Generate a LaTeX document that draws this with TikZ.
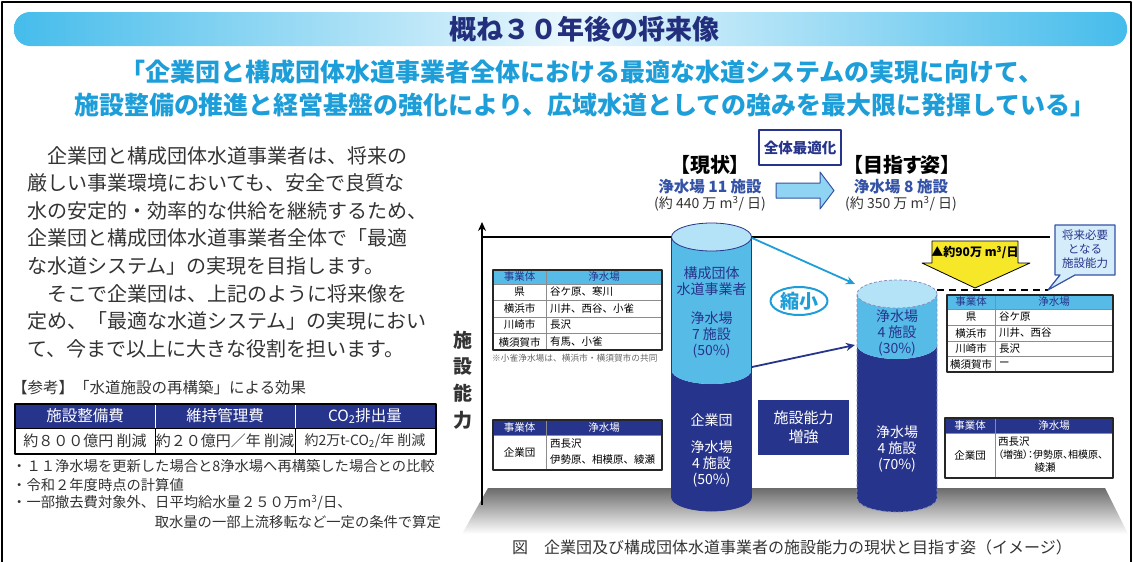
\documentclass[tikz,border=0pt]{standalone}
\usepackage{fontspec}
\setmainfont{Noto Sans CJK JP}
\newfontfamily\jpp[RawFeature=+palt]{Noto Sans CJK JP}
\usetikzlibrary{positioning,arrows.meta,shapes.geometric}
\definecolor{navy}{HTML}{27348B}
\definecolor{watermid}{HTML}{56BBE7}
\definecolor{waterlite}{HTML}{B4E3F7}
\definecolor{sky}{HTML}{1D9ED9}
\definecolor{bannerend}{HTML}{45BCEB}
\definecolor{bannermid}{HTML}{EAF7FD}
\definecolor{inkgray}{HTML}{333333}
\definecolor{callyellow}{HTML}{F6E829}
\definecolor{callblue}{HTML}{D5ECFA}
\definecolor{lineblue}{HTML}{3553A6}
\definecolor{arrowfill}{HTML}{8FD4F3}
\newcommand\fs[2]{\fontsize{#1}{#2}\selectfont}
\begin{document}
\begin{tikzpicture}[x=1pt,y=1pt,>={Stealth[length=9pt,width=8pt]},line join=round,
	cyltext/.style={align=center,font=\fs{14}{16}},
	cell/.style={inner sep=0pt,font=\fs{10.5}{12}},
	tabframe/.style={line width=1.1pt,draw=black!85},
	tabrule/.style={line width=0.4pt,draw=black!45}]
	\useasboundingbox (0,0) rectangle (1133,-562);
	\draw[line width=1.5pt] (2,-562) -- (2,-2) -- (1131,-2) -- (1131,-562);
	% banner and aim
	\shade[left color=bannerend,right color=bannerend,middle color=bannermid,rounded corners=16pt] (14,-12) rectangle (1127,-46);
	\node[font=\fs{27}{30}\bfseries,text=navy!90!black] (title) at (584,-29) {概ね３０年後の将来像};
	\node[font=\fs{25}{28}\bfseries,text=sky] (aim1) at (582,-72) {「企業団と構成団体水道事業者全体における最適な水道システムの実現に向けて、};
	\node[font=\fs{25}{28}\bfseries,text=sky] (aim2) at (585,-105) {施設整備の推進と経営基盤の強化により、広域水道としての強みを最大限に発揮している」};
	% left text
	\node[anchor=north west,inner sep=0pt,align=left,font=\fs{20}{27.6},text=inkgray] (intro) at (27,-146) {　企業団と構成団体水道事業者は、将来の\\厳しい事業環境においても、安全で良質な\\水の安定的・効率的な供給を継続するため、\\企業団と構成団体水道事業者全体で「最適\\な水道システム」の実現を目指します。\\　そこで企業団は、上記のように将来像を\\定め、「最適な水道システム」の実現におい\\て、今まで以上に大きな役割を担います。};
	\node[anchor=west,inner sep=0pt,font=\fs{15.5}{18},text=inkgray] (ref) at (12,-388) {【参考】「水道施設の再構築」による効果};
	\fill[navy] (15,-404) rectangle (436,-428);
	\draw[white,thin] (155,-404) -- (155,-428) (295,-404) -- (295,-428);
	\draw[thin] (15,-428) -- (436,-428) (155,-428) -- (155,-454) (295,-428) -- (295,-454);
	\draw[line width=1.2pt] (15,-404) rectangle (436,-454);
	\node[font=\fs{15.5}{18},text=white] (costbuild) at (85,-416) {施設整備費};
	\node[font=\fs{15.5}{18},text=white] (costrun) at (225,-416) {維持管理費};
	\node[font=\fs{15.5}{18},text=white] (costco) at (365,-416) {CO\textsubscript{2}排出量};
	\node[font=\fs{15}{18},text=inkgray] (savebuild) at (85,-441) {約８００億円 削減};
	\node[font=\fs{15}{18},text=inkgray] (saverun) at (225,-441) {約２０億円／年 削減};
	\node[font=\fs{14}{18},text=inkgray] (saveco) at (365,-441) {約2万t-CO\textsubscript{2}/年 削減};
	\node[anchor=west,inner sep=0pt,font=\fs{14.3}{16},text=inkgray] (note1) at (12,-466) {・１１浄水場を更新した場合と8浄水場へ再構築した場合との比較};
	\node[anchor=west,inner sep=0pt,font=\fs{14.3}{16},text=inkgray] (note2) at (12,-485) {・令和２年度時点の計算値};
	\node[anchor=west,inner sep=0pt,font=\fs{14.3}{16},text=inkgray] (note3) at (12,-503) {・一部撤去費対象外、日平均給水量２５０万m\textsuperscript{3}/日、};
	\node[anchor=east,inner sep=0pt,font=\fs{14.3}{16},text=inkgray] (note4) at (441,-522) {取水量の一部上流移転など一定の条件で算定};
	% ground, axis, level line
	\shade[top color=black!58,bottom color=white] (488,-488) -- (1105,-488) -- (1128,-534) -- (462,-534) -- cycle;
	\draw[->,line width=1.3pt] (482,-505) -- (482,-222);
	\node[align=center,font=\fs{19}{26.7}\bfseries,text=inkgray] (axislbl) at (463,-380) {施\\設\\能\\力};
	\draw[line width=1.5pt] (482,-237) -- (1050,-237);
	% top centre
	\node[draw=navy,line width=1.5pt,fill=white,minimum width=82pt,minimum height=35pt,font=\fs{14.5}{16}\bfseries,text=navy] (opt) at (800,-147.5) {全体最適化};
	\node[font=\fs{20}{22}\bfseries\jpp] (now) at (710,-165) {【現状】};
	\node[font=\fs{15.5}{18}\bfseries,text=lineblue] (nowcnt) at (710,-187) {浄水場 11 施設};
	\node[font=\fs{14}{16},text=inkgray] (nowvol) at (710,-204) {\jpp(約 440 万 m\textsuperscript{3}/ 日)};
	\node[font=\fs{20}{22}\bfseries\jpp] (goal) at (902,-165) {【目指す姿】};
	\node[font=\fs{15.5}{18}\bfseries,text=lineblue] (goalcnt) at (901,-187) {浄水場 8 施設};
	\node[font=\fs{14}{16},text=inkgray] (goalvol) at (901,-204) {\jpp(約 350 万 m\textsuperscript{3}/ 日)};
	\draw[draw=lineblue,fill=arrowfill,line width=1pt] (776,-183) -- (820,-183) -- (820,-172) -- (834,-190.5) -- (820,-209) -- (820,-198) -- (776,-198) -- cycle;
	% tables, current
	\fill[watermid] (493,-270) rectangle (662,-284);
	\draw[tabrule] (493,-284) -- (662,-284) (493,-300.5) -- (662,-300.5) (493,-317) -- (662,-317) (493,-333.5) -- (662,-333.5) (546,-270) -- (546,-350);
	\draw[tabframe] (493,-270) rectangle (662,-350);
	\node[cell,text=navy] (nowhd1) at (519.5,-277) {事業体};
	\node[cell,text=navy] (nowhd2) at (604,-277) {浄水場};
	\node[cell] (nowa1) at (519.5,-292) {県};
	\node[cell,anchor=west] (nowa2) at (550,-292) {谷ケ原、寒川};
	\node[cell] (nowb1) at (519.5,-308.5) {横浜市};
	\node[cell,anchor=west] (nowb2) at (550,-308.5) {川井、西谷、小雀};
	\node[cell] (nowc1) at (519.5,-325) {川崎市};
	\node[cell,anchor=west] (nowc2) at (550,-325) {長沢};
	\node[cell] (nowd1) at (519.5,-342) {横須賀市};
	\node[cell,anchor=west] (nowd2) at (550,-342) {有馬、小雀};
	\node[anchor=west,inner sep=0pt,font=\fs{8.7}{10},text=black!60] (nownote) at (492,-358) {※小雀浄水場は、横浜市・横須賀市の共同};
	\fill[navy] (493,-420) rectangle (662,-435);
	\draw[tabrule] (493,-435) -- (662,-435) (546,-420) -- (546,-470);
	\draw[tabframe] (493,-420) rectangle (662,-470);
	\node[cell,text=white] (corphd1) at (519.5,-427.5) {事業体};
	\node[cell,text=white] (corphd2) at (604,-427.5) {浄水場};
	\node[cell] (corpa1) at (519.5,-452.5) {企業団};
	\node[cell,anchor=west] (corpa2) at (550,-444) {西長沢};
	\node[cell,anchor=west] (corpa3) at (550,-460) {伊勢原、相模原、綾瀬};
	% tables, future
	\fill[watermid] (947,-295) rectangle (1113,-309);
	\draw[tabrule] (947,-309) -- (1113,-309) (947,-325) -- (1113,-325) (947,-341) -- (1113,-341) (947,-356.5) -- (1113,-356.5) (995,-295) -- (995,-372);
	\draw[tabframe] (947,-295) rectangle (1113,-372);
	\node[cell,text=navy] (futhd1) at (971,-302) {事業体};
	\node[cell,text=navy] (futhd2) at (1054,-302) {浄水場};
	\node[cell] (futa1) at (971,-317) {県};
	\node[cell,anchor=west] (futa2) at (999,-317) {谷ケ原};
	\node[cell] (futb1) at (971,-333) {横浜市};
	\node[cell,anchor=west] (futb2) at (999,-333) {川井、西谷};
	\node[cell] (futc1) at (971,-348.7) {川崎市};
	\node[cell,anchor=west] (futc2) at (999,-348.7) {長沢};
	\node[cell] (futd1) at (971,-364.2) {横須賀市};
	\node[cell,anchor=west] (futd2) at (999,-364.2) {ー};
	\fill[navy] (945,-418) rectangle (1113,-433);
	\draw[tabrule] (945,-433) -- (1113,-433) (995,-418) -- (995,-478);
	\draw[tabframe] (945,-418) rectangle (1113,-478);
	\node[cell,text=white] (fcorphd1) at (970,-425.5) {事業体};
	\node[cell,text=white] (fcorphd2) at (1054,-425.5) {浄水場};
	\node[cell] (fcorpa1) at (970,-455) {企業団};
	\node[cell,anchor=west] (fcorpa2) at (998,-442) {西長沢};
	\node[cell,anchor=west,font=\fs{10}{12}\jpp] (fcorpa3) at (998,-455) {（増強）：伊勢原、相模原、};
	\node[cell] (fcorpa4) at (1045,-468) {綾瀬};
	% cylinders
	\def\cylrx{40}
	\def\cylry{14}
	\fill[navy] (671.5,-370) arc[start angle=180,end angle=360,x radius=\cylrx,y radius=\cylry] -- (751.5,-497) arc[start angle=0,end angle=-180,x radius=\cylrx,y radius=\cylry] -- cycle;
	\fill[watermid] (671.5,-237) -- (671.5,-370) arc[start angle=180,end angle=360,x radius=\cylrx,y radius=\cylry] -- (751.5,-237) -- cycle;
	\fill[waterlite] (711.5,-237) ellipse[x radius=\cylrx,y radius=\cylry];
	\draw[navy,line width=0.8pt] (711.5,-237) ellipse[x radius=\cylrx,y radius=\cylry] (671.5,-237) -- (671.5,-497) arc[start angle=180,end angle=360,x radius=\cylrx,y radius=\cylry] -- (751.5,-237);
	\fill[navy] (857,-345) arc[start angle=180,end angle=360,x radius=\cylrx,y radius=\cylry] -- (937,-498) arc[start angle=0,end angle=-180,x radius=\cylrx,y radius=\cylry] -- cycle;
	\fill[watermid] (857,-294) -- (857,-345) arc[start angle=180,end angle=360,x radius=\cylrx,y radius=\cylry] -- (937,-294) -- cycle;
	\fill[waterlite] (897,-294) ellipse[x radius=\cylrx,y radius=\cylry];
	\draw[navy!55,line width=0.8pt,dash pattern=on 3pt off 2pt] (897,-294) ellipse[x radius=\cylrx,y radius=\cylry] (857,-294) -- (857,-498) arc[start angle=180,end angle=360,x radius=\cylrx,y radius=\cylry] -- (937,-294);
	\node[cyltext,text=navy] (nowco) at (711.5,-281.5) {構成団体\\水道事業者};
	\node[cyltext,text=navy] (nowcoplant) at (711.5,-335) {浄水場\\7 施設\\(50\%)};
	\node[cyltext,text=white] (nowcorp) at (711.5,-420) {企業団};
	\node[cyltext,text=white] (nowcorpplant) at (711.5,-464) {浄水場\\4 施設\\(50\%)};
	\node[cyltext,text=navy] (futco) at (897,-333) {浄水場\\4 施設\\(30\%)};
	\node[cyltext,text=white] (futcorp) at (897,-449) {浄水場\\4 施設\\(70\%)};
	% shrink and reinforce
	\coordinate (nowtop) at (752,-238);
	\coordinate (futtop) at (855,-284);
	\coordinate (nowmid) at (752,-367);
	\coordinate (futmid) at (855,-345);
	\draw[->,sky,line width=1.8pt] (nowtop) -- (futtop);
	\draw[->,navy,line width=1.8pt] (nowmid) -- (futmid);
	\node[draw=sky,line width=2pt,fill=white,ellipse,minimum width=57pt,minimum height=28pt,inner sep=0pt,font=\fs{19}{20}\bfseries,text=sky] (shrink) at (799,-301) {縮小};
	\node[fill=navy,minimum width=91pt,minimum height=55pt,align=center,font=\fs{15}{19},text=white] (boost) at (803.5,-427.5) {施設能力\\増強};
	% callouts
	\draw[dash pattern=on 7pt off 5pt,line width=1.5pt] (937,-290) -- (1048,-290);
	\draw[fill=callyellow,line width=0.8pt] (932,-241) -- (1018,-241) -- (1018,-263) -- (1030,-263) -- (975,-288) -- (922,-263) -- (932,-263) -- cycle;
	\node[font=\fs{12}{14}\bfseries] (gap) at (975,-252.5) {▲約90万 m\textsuperscript{3}/日};
	\draw[draw=lineblue,fill=callblue,line width=1.2pt] (1075,-275) -- (1115,-275) -- (1115,-225) -- (1055,-225) -- (1055,-275) -- (1060,-275) -- (1048,-290) -- cycle;
	\node[align=center,font=\fs{11.5}{14},text=navy] (need) at (1085,-249.5) {将来必要\\となる\\施設能力};
	% caption
	\node[font=\fs{16}{18},text=inkgray] (figcap) at (792,-547) {図　企業団及び構成団体水道事業者の施設能力の現状と目指す姿（イメージ）};
\end{tikzpicture}
\end{document}
